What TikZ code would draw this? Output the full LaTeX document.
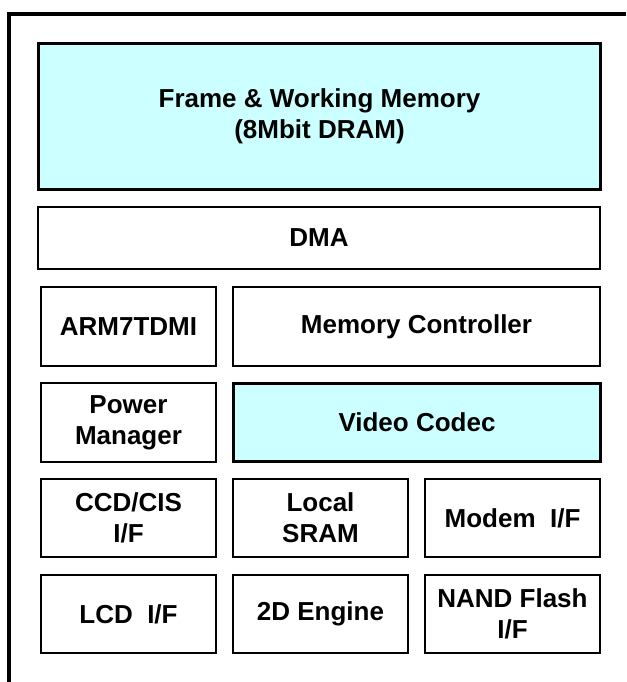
\documentclass[tikz,border=0pt]{standalone}
\usepackage{fontspec}
\setmainfont{Liberation Sans}
\usepackage{tikz}

\definecolor{memcyan}{HTML}{CCFFFF}

\tikzset{
	block/.style={shape=rectangle, draw=black, line width=2pt, fill=white, inner sep=0pt, align=center,
		font=\bfseries\fontsize{26}{31}\selectfont},
	hiblock/.style={block, line width=3.5pt, fill=memcyan},
}

\begin{document}
\begin{tikzpicture}[x=1pt, y=-1pt]
	
	\useasboundingbox (0, 0) rectangle (626, 682);
	
	\coordinate (fb) at (9, 682);
	\coordinate (fc) at (9, 14);
	\coordinate (fr) at (626, 14);
	\draw[line width=4pt] (fb) -- (fc) -- (fr);
	
	\node[hiblock, minimum width=562pt, minimum height=146pt] (fwm) at (319.5, 116.5) {Frame \& Working Memory\\(8Mbit DRAM)};
	\node[block, minimum width=562pt, minimum height=62pt] (dma) at (319, 238) {DMA};
	\node[block, minimum width=175pt, minimum height=79pt] (arm) at (128.5, 326.5) {ARM7TDMI};
	\node[block, minimum width=367pt, minimum height=79pt] (memc) at (416.5, 326.5) {Memory Controller};
	\node[block, minimum width=175pt, minimum height=79pt] (pm) at (128.5, 422.5) {Power\\Manager};
	\node[hiblock, minimum width=367pt, minimum height=78pt] (codec) at (417, 422.5) {Video Codec};
	\node[block, minimum width=175pt, minimum height=78pt] (ccd) at (128.5, 518) {CCD/CIS\\I/F};
	\node[block, minimum width=175pt, minimum height=78pt] (sram) at (320.5, 518) {Local\\SRAM};
	\node[block, minimum width=175pt, minimum height=78pt] (modem) at (512.5, 518) {Modem\ \ I/F};
	\node[block, minimum width=175pt, minimum height=78pt] (lcd) at (128.5, 614) {LCD\ \ I/F};
	\node[block, minimum width=175pt, minimum height=78pt] (engine) at (320.5, 614) {2D Engine};
	\node[block, minimum width=175pt, minimum height=78pt] (nand) at (512.5, 614) {NAND Flash\\I/F};
	
\end{tikzpicture}
\end{document}
